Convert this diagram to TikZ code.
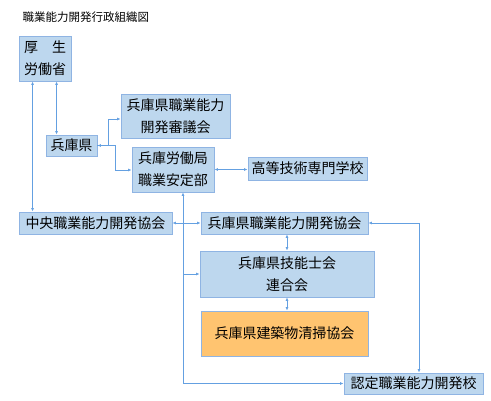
\documentclass[tikz,border=0pt]{standalone}
\usepackage{fontspec}
\setmainfont{Noto Sans CJK JP}
\usepackage{xcolor}
\usetikzlibrary{arrows.meta,calc}

\definecolor{boxfill}{RGB}{189,215,238}
\definecolor{boxline}{RGB}{143,180,227}
\definecolor{orgfill}{RGB}{255,196,112}
\definecolor{linkcol}{RGB}{100,160,225}

\tikzset{
  org/.style={draw=boxline,fill=boxfill,line width=0.9pt,inner sep=0pt,align=center,
              font=\fontsize{14}{22}\selectfont},
  link/.style={draw=linkcol,line width=0.7pt},
}

\begin{document}
\begin{tikzpicture}[x=1pt,y=-1pt,>={Latex[length=3.5pt,width=3pt]}]
      \useasboundingbox (0,0) rectangle (491,400);
      \node[font=\fontsize{11.5}{14}\selectfont,anchor=west] (title) at (19,17) {職業能力開発行政組織図};
      % boxes
      \node[org,minimum width=52,minimum height=45] (mhlw) at (45,58.5) {厚　生\\労働省};
      \node[org,minimum width=51,minimum height=21] (pref) at (71.5,145.5) {兵庫県};
      \node[org,minimum width=109,minimum height=44] (council) at (175.5,116) {兵庫県職業能力\\開発審議会};
      \node[org,minimum width=82,minimum height=45] (labor) at (173,169.5) {兵庫労働局\\職業安定部};
      \node[org,minimum width=119,minimum height=23] (school) at (307.5,168.5) {高等技術専門学校};
      \node[org,minimum width=153,minimum height=22] (central) at (95.5,223) {中央職業能力開発協会};
      \node[org,minimum width=167,minimum height=22] (assoc) at (284.5,223) {兵庫県職業能力開発協会};
      \node[org,minimum width=174,minimum height=46] (skill) at (287,274) {兵庫県技能士会\\連合会};
      \node[org,fill=orgfill,minimum width=167,minimum height=45] (clean) at (284.5,333.5) {兵庫県建築物清掃協会};
      \node[org,minimum width=139,minimum height=21] (cert) at (413.5,383.5) {認定職業能力開発校};
      % links
      \coordinate (trunk) at (183,223);
      \coordinate (bend) at (419,223);
      \draw[link,<->] ([xshift=11]pref.north west) -- ([xshift=11]pref.north west |- mhlw.south);
      \draw[link,<->] ([xshift=14]mhlw.south west) -- ([xshift=14]mhlw.south west |- central.north);
      \draw[link,->] (pref.east) -- ++(11,0) |- ($(council.west)+(0,3)$);
      \draw[link,<->] (pref.east) -- ++(18,0) |- ($(labor.west)+(0,0.5)$);
      \draw[link,<->] (labor.east) -- (labor.east -| school.west);
      \draw[link,<->] (labor.south -| trunk) -- (trunk |- cert.west) -- (cert.west);
      \draw[link,<->] (central.east) -- (assoc.west);
      \draw[link,->] (trunk |- skill.west) -- (skill.west);
      \draw[link,<->] (assoc.south -| skill.north) -- (skill.north);
      \draw[link,<->] (skill.south) -- (skill.south |- clean.north);
      \draw[link,<->] (assoc.east) -- (bend) -- (bend |- cert.north);
\end{tikzpicture}
\end{document}
